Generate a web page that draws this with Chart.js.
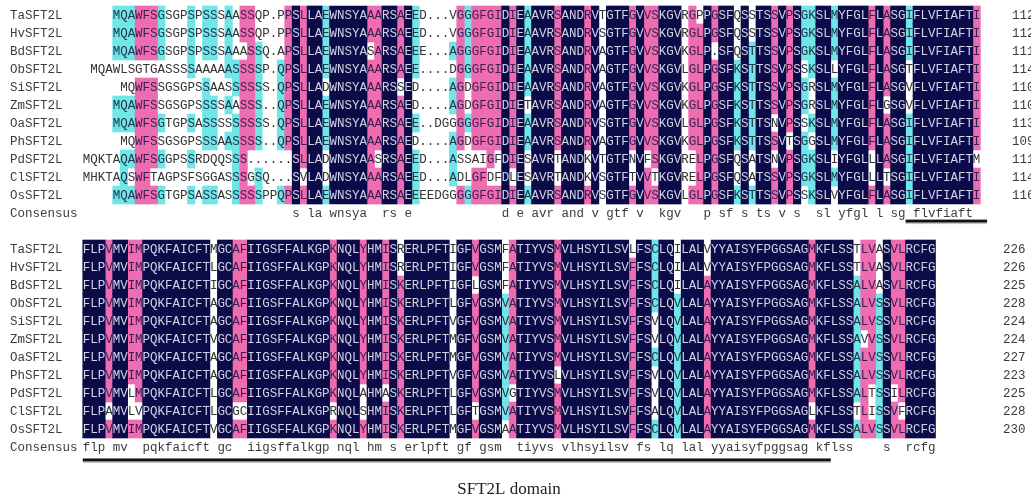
<!DOCTYPE html>
<html><head><meta charset="utf-8">
<script src="https://cdn.jsdelivr.net/npm/chart.js@4.4.1/dist/chart.umd.min.js"></script>
<style>html,body{margin:0;padding:0;background:#fff;}#wrap{width:1031px;height:504px;}canvas{display:block;}</style>
</head><body><div id="wrap"><canvas id="c" width="1031" height="504"></canvas></div>
<script>
// ---------------- DATA ----------------
const names = ['TaSFT2L','HvSFT2L','BdSFT2L','ObSFT2L','SiSFT2L','ZmSFT2L','OaSFT2L','PhSFT2L','PdSFT2L','ClSFT2L','OsSFT2L'];

// block 1: alignment columns 0..119 (' ' = no residue, '.' = gap)
const block1 = [
  "    MQAWFSGSGPSPSSSAASSQP.PP" + "SLLAEWNSYAAARSAEED...VGGGFGIDIE" + "AAVRSANDRVTGTFGVVSKGVRGPPGSFQSSTSSV" + "PSGKSLMYFGLFLASGIFLVFIAFTI",
  "    MQAWFSGSGPSPSSSAASSQP.PP" + "SLLAEWNSYAAARSAEED...VGGGFGIDIE" + "AAVRSANDRVSGTFGVVSKGVRGLPGSFQSSTSSV" + "PSGKSLMYFGLFLASGIFLVFIAFTI",
  "    MQAWFSGSGPSPSSSAAASSQ.AP" + "SLLAEWNSYASARSAEEE...AGGGFGIDIE" + "AAVRSANDRVAGTFGVVSKGVKGLP.SFQSTTSSV" + "PSGKSLMYFGLFLASGIFLVFIAFTI",
  " MQAWLSGTGASSSSAAAAASSSSP.QP" + "SLLAEWNSYAAARSAEE....DGGGFGIDIE" + "AAVRSANDRVAGTFGVVSKGVLGLPGSFKSTTSSV" + "PSSKSLLYFGLFLASGTFLVFIAFTI",
  "     MQWFSSGSGPSSAASSSSSS.QP" + "SLLADWNSYAAARSSED....AGDGFGIDIE" + "AAVRSANDRVAGTFGVVSKGVKGLPGSFKSTTSSV" + "PSGRSLMYFGLFLASGVFLVFIAFTI",
  "    MQAWFSSGSGPSSSSAASSS..QP" + "SLLAEWNSYAAARSAED....AGDGFGIDIE" + "TAVRSANDRVAGTFGVVSKGVKGLPGSFKSTTSSV" + "PSGRSLMYFGLFLGSGVFLVFIAFTI",
  "    MQAWFSGTGPSASSSSSSSSS.QP" + "SLLAEWNSYAAARSAEE..DGGGGGFGIDIE" + "AAVRSANDRVSGTFGVVSKGVLGLPGSFKSTTSNV" + "PSSKSLMYFGLFLASGIFLVFIAFTI",
  "     MQWFSSGSGPSSSAASSSS..QP" + "SLLAEWNSYAAARSAED....AGDGFGIDIE" + "AAVRSANDRVAGTFGVVSKGVKGLPGSFKSTTSSV" + "TSGGSLMYFGLFLASGIFLVFIAFTI",
  "MQKTAQAWFSGGPSSRDQQSSS......" + "SLLADWNSYAASRSAEED...ASSAIGFDIE" + "SAVRTANDKVTGTFNVFSKGVRELPGSFQSATSNV" + "PSGKSLIYFGLLLASGIFLVFIAFTM",
  "MHKTAQSWFTAGPSFSGGASSSGSQ..." + "SVLADWNSYAAARSAEED...ADLGFDFDLE" + "SAVRTANDKVSGTFTVVTKGVRELPGSFQSATSSV" + "PSGKSLMYFGLLLTSGIFLVFIAFTI",
  "    MQAWFSGTGPSASSASSSSSPPQP" + "SLLAEWNSYAAARSAEEEEDGGGGGFGIDIE" + "AAVRSANDRVSGTFGVVSKGVLGLPGSFKSTTSSV" + "PSSKSLVYFGLFLASGIFLVFIAFTI"
];

// block 2: alignment columns 0..113
const block2 = [
  "FLPVMVIMPQKFAICFTMGCAFIIG" + "SFFALKGPKNQLYHMISRERLPFTIGFVGSMFATI" + "YVSMVLHSYILSVLFSCLQILALVYYAISYFPG" + "GSAGMKFLSSTLVASVLRCFG",
  "FLPVMVIMPQKFAICFTLGCAFIIG" + "SFFALKGPKNQLYHMISRERLPFTIGFVGSMFATI" + "YVSMVLHSYILSVFFSCLQILALVYYAISYFPG" + "GSAGMKFLSSTLVASVLRCFG",
  "FLPVMVIMPQKFAICFTIGCAFIIG" + "SFFALKGPKNQLYHMISKERLPFTIGFLGSMFATI" + "YVSMVLHSYILSVFFSCLQILALAYYAISYFPG" + "GSAGMKFLSSALVASVLRCFG",
  "FLPVMVIMPQKFAICFTAGCAFIIG" + "SFFALKGPKNQLYHMISKERLPFTLGFVGSMVATI" + "YVSMVLHSYILSVFFSCLQVLALAYYAISYFPG" + "GSAGMKFLSSALVSSVLRCFG",
  "FLPVMVIMPQKFAICFTAGCAFIIG" + "SFFALKGPKNQLYHMISKERLPFTVGFVGSMVATI" + "YVSMVLHSYILSVFFSVLQVLALAYYAISYFPG" + "GSAGMKFLSSALVSSVLRCFG",
  "FLPVMVIMPQKFAICFTVGCAFIIG" + "SFFALKGPKNQLYHMISKERLPFTMGFVGSMVATI" + "YVSMVLHSYILSVFFSVLQVLALAYYAISYFPG" + "GSAGMKFLSSAVVSSVLRCFG",
  "FLPVMVIMPQKFAICFTAGCAFIIG" + "SFFALKGPKNQLYHMISKERLPFTMGFVGSMVATI" + "YVSMVLHSYILSVFFSCLQVLALAYYAISYFPG" + "GSAGMKFLSSALVSSVLRCFG",
  "FLPVMVIMPQKFAICFTAGCAFIIG" + "SFFALKGPKNQLYHMISKERLPFTVGFVGSMVATI" + "YVSLVLHSYILSVFFSVLQVLALAYYAISYFPG" + "GSAGMKFLSSALVSSVLRCFG",
  "FLPVMVLMPQKFAICFTLGCAFIIG" + "SFFALKGPKNQLAHMASKERLPFTLGFVGSMVGTI" + "YVSMVLHSYILSVFFSVLQVLALAYYAISYFPG" + "GSAGMKFLSSALTSSILRCFG",
  "FLPAMVLVPQKFAICFTLGCGCIIG" + "SFFALKGPRNQLSHMISKERLPFTLGFTGSMVATI" + "YVSMVLHSYILSVFFSALQVLALAYYAISYFPG" + "GSAGLKFLSSTLISSVFRCFG",
  "FLPVMVIMPQKFAICFTVGCAFIIG" + "SFFALKGPKNQLYHMISKERLPFTMGFVGSMAATI" + "YVSMVLHSYILSVFFSCLQVLALAYYAISYFPG" + "GSAGMKFLSSALVSSVLRCFG"
];

const block1End = [112, 112, 111, 114, 110, 110, 113, 109, 111, 114, 116];
const block2End = [226, 226, 225, 228, 224, 224, 227, 223, 225, 228, 230];

const consensus1 = " ".repeat(28) + "s la wnsya  rs e" + " ".repeat(12) +
  "d e avr and v gtf v  kgv   p sf s ts v s  sl yfgl l sg flvfiaft";
const consensus2 = "flp mv  pqkfaicft gc  iigsffalkgp nql hm s erlpft gf gsm  tiyvs vlhsyilsv fs lq lal yyaisyfpggsag kflss    s  rcfg";

const consensusLabel = 'Consensus';
const domainLabel = 'SFT2L domain';
// domain underline spans (alignment columns)
const domainSpan1 = [109.5, 120.4];
const domainSpan2 = [-0.5, 99.5];

// ---------------- STYLE ----------------
const NAVY = '#0c0b4a', PINK = '#f06cb0', CYAN = '#6fe6e8';
const MONO = "'Liberation Mono', 'Courier New', monospace";
const XMIN = -86.5 / 7.48, XMAX = XMIN + 1031 / 7.48;   // column scale
const YMIN = -15 / 18, YMAX = YMIN + 504 / 18;         // row scale

const blocks = [
  { seqs: block1, row0: 0, ends: block1End, cons: consensus1, endX: 1012, line: domainSpan1, lineRow: 11.45 },
  { seqs: block2, row0: 13, ends: block2End, cons: consensus2, endX: 1003, line: domainSpan2, lineRow: 24.72 }
];

// identity level of every cell (100% / >=75% / >=50%)
function classify(seqs) {
  const n = seqs.length;
  const L = Math.max(...seqs.map(s => s.length));
  const out = seqs.map(() => new Array(L).fill(null));
  for (let c = 0; c < L; c++) {
    const cnt = {};
    seqs.forEach(s => { const ch = s[c]; if (ch && ch !== ' ' && ch !== '.') cnt[ch] = (cnt[ch] || 0) + 1; });
    let best = null, bn = 0;
    for (const k in cnt) if (cnt[k] > bn) { bn = cnt[k]; best = k; }
    const f = bn / n;
    const cls = f === 1 ? 'navy' : f >= 0.75 ? 'pink' : f >= 0.5 ? 'cyan' : null;
    if (cls) seqs.forEach((s, i) => { if (s[c] === best) out[i][c] = cls; });
  }
  return out;
}
blocks.forEach(b => { b.cls = classify(b.seqs); });

// runs of same-level cells -> floating horizontal bars
function runs(level) {
  const data = [];
  blocks.forEach(b => {
    b.cls.forEach((row, i) => {
      let start = null;
      for (let c = 0; c <= row.length; c++) {
        const on = row[c] === level;
        if (on && start === null) start = c;
        if (!on && start !== null) { data.push({ y: b.row0 + i, x: [start - 0.5, c - 0.5] }); start = null; }
      }
    });
  });
  return data;
}

const textPlugin = {
  id: 'alignText',
  afterDatasetsDraw(chart) {
    const ctx = chart.ctx, xs = chart.scales.x, ys = chart.scales.y;
    ctx.save();
    ctx.textBaseline = 'middle';
    ctx.font = '12.5px ' + MONO;
    blocks.forEach(b => {
      b.seqs.forEach((s, i) => {
        const y = ys.getPixelForValue(b.row0 + i) + 0.5;
        ctx.textAlign = 'left';
        ctx.fillStyle = '#3c3c3c';
        ctx.fillText(names[i], 10, y);
        ctx.fillText(String(b.ends[i]), b.endX, y);
        ctx.textAlign = 'center';
        for (let c = 0; c < s.length; c++) {
          const ch = s[c];
          if (ch === ' ') continue;
          const k = b.cls[i][c];
          ctx.fillStyle = k === 'navy' ? '#d2d2e4' : k === 'pink' ? '#3a1e52' : k === 'cyan' ? '#23364a' : '#333333';
          ctx.fillText(ch, xs.getPixelForValue(c), y);
        }
      });
      const yc = ys.getPixelForValue(b.row0 + 11) + 0.5;
      ctx.textAlign = 'left';
      ctx.fillStyle = '#3c3c3c';
      ctx.fillText(consensusLabel, 10, yc);
      ctx.textAlign = 'center';
      for (let c = 0; c < b.cons.length; c++) {
        if (b.cons[c] !== ' ') ctx.fillText(b.cons[c], xs.getPixelForValue(c), yc);
      }
      // domain underline
      const yl = ys.getPixelForValue(b.lineRow);
      ctx.fillStyle = '#111111';
      const x0 = xs.getPixelForValue(b.line[0]), x1 = xs.getPixelForValue(b.line[1]);
      ctx.fillRect(x0, yl - 1.5, x1 - x0, 3);
      ctx.fillStyle = 'rgba(0,0,0,0.25)';
      ctx.fillRect(x0, yl + 2, x1 - x0, 1);
    });
    ctx.textAlign = 'center';
    ctx.fillStyle = '#222222';
    ctx.font = "17px 'Liberation Serif', 'Times New Roman', serif";
    ctx.fillText(domainLabel, 509, 490);
    ctx.restore();
  }
};

const common = { grouped: false, barThickness: 18, borderWidth: 0, borderSkipped: false };
new Chart(document.getElementById('c'), {
  type: 'bar',
  data: {
    datasets: [
      Object.assign({ label: '100%', data: runs('navy'), backgroundColor: NAVY }, common),
      Object.assign({ label: '>=75%', data: runs('pink'), backgroundColor: PINK }, common),
      Object.assign({ label: '>=50%', data: runs('cyan'), backgroundColor: CYAN }, common)
    ]
  },
  options: {
    indexAxis: 'y',
    responsive: false,
    animation: false,
    events: [],
    layout: { padding: 0 },
    plugins: { legend: { display: false }, tooltip: { enabled: false }, title: { display: false } },
    scales: {
      x: { type: 'linear', min: XMIN, max: XMAX, offset: false, display: false },
      y: { type: 'linear', min: YMIN, max: YMAX, reverse: true, offset: false, display: false }
    }
  },
  plugins: [textPlugin]
});
</script>
</body></html>
